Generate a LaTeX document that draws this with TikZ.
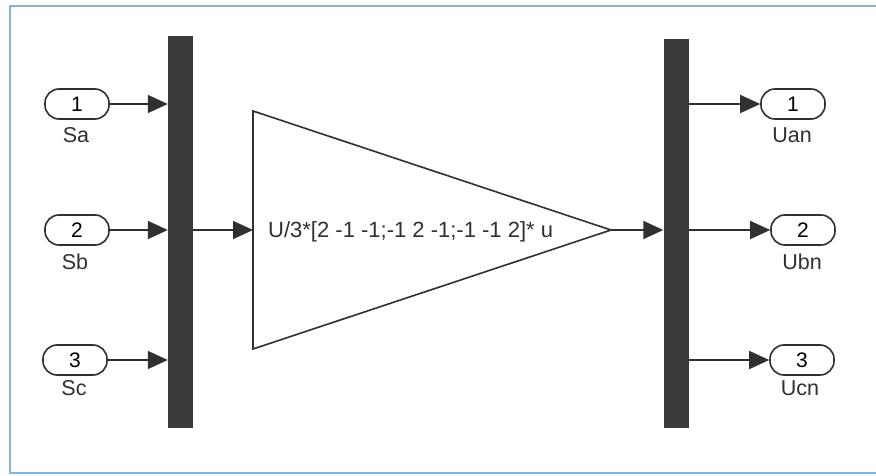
\documentclass[tikz,border=0pt]{standalone}
\usepackage{fontspec}
\setmainfont{Liberation Sans}
\usetikzlibrary{arrows.meta}
\definecolor{frameblue}{HTML}{7EB6DA}
\definecolor{barc}{HTML}{3A3A3A}
\definecolor{ink}{HTML}{303030}
\begin{document}
\begin{tikzpicture}[x=1pt,y=-1pt,
  port/.style={draw=ink, line width=1.6pt, rounded corners=14pt, minimum width=64pt, minimum height=30pt, inner sep=0pt, font=\fontsize{21}{21}\selectfont},
  busbar/.style={fill=barc, draw=none, minimum width=25pt, inner sep=0pt},
  lbl/.style={font=\fontsize{21.5}{24}\selectfont, inner sep=0pt, text=ink},
  sig/.style={draw=ink, line width=1.6pt, -{Triangle[length=20pt,width=18pt]}},
  gainbox/.style={draw=ink, line width=1.6pt, line join=miter}
]
\useasboundingbox (0,0) rectangle (876,476);
\fill[white] (0,0) rectangle (876,476);
% frame
\draw[frameblue, line width=2pt] (876,6) -- (10,6) -- (10,473) -- (876,473);

% inports
\node[port] (sa) at (77,104) {1};
\node[port] (sb) at (77,230) {2};
\node[port] (sc) at (75,360) {3};
\node[lbl] (sal) at (76,135) {Sa};
\node[lbl] (sbl) at (75,262) {Sb};
\node[lbl] (scl) at (74,388) {Sc};

% mux bar
\node[busbar, minimum height=392pt] (mux) at (180.5,232) {};

% demux bar
\node[busbar, minimum height=389pt] (demux) at (676,233.5) {};

% outports
\node[port] (uan) at (793,104) {1};
\node[port] (ubn) at (803,230) {2};
\node[port] (ucn) at (802,360) {3};
\node[lbl] (uanl) at (792,135) {Uan};
\node[lbl] (ubnl) at (802,262) {Ubn};
\node[lbl] (ucnl) at (800,388) {Ucn};

% gain
\coordinate (gin) at (253,230);
\coordinate (gtip) at (611,230);
\draw[gainbox] (253,111) -- (gtip) -- (253,349) -- cycle;
\node[lbl, anchor=base west, font=\fontsize{22}{24}\selectfont] (gtxt) at (268,237) {U/3*[2 -1 -1;-1 2 -1;-1 -1 2]* u};

% connectors
\draw[sig] (sa.east) -- (sa.east -| mux.west);
\draw[sig] (sb.east) -- (sb.east -| mux.west);
\draw[sig] (sc.east) -- (sc.east -| mux.west);
\draw[sig] (gin -| mux.east) -- (gin);
\draw[sig] (gtip) -- (gtip -| demux.west);
\draw[sig] (uan.west -| demux.east) -- (uan.west);
\draw[sig] (ubn.west -| demux.east) -- (ubn.west);
\draw[sig] (ucn.west -| demux.east) -- (ucn.west);
\end{tikzpicture}
\end{document}
